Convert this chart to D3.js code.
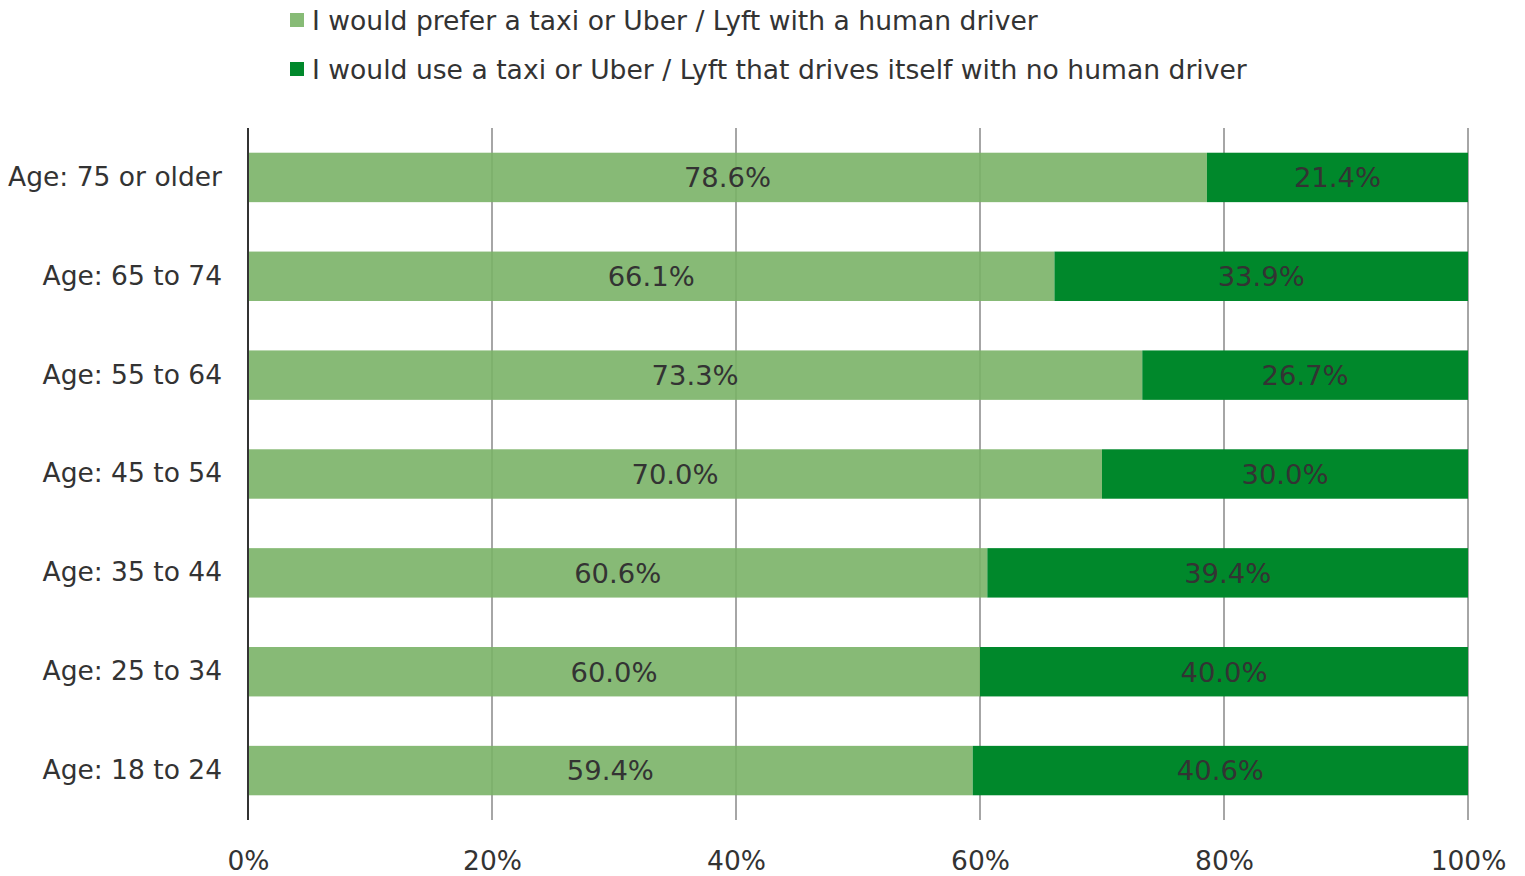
<!DOCTYPE html>
<html><head><meta charset="utf-8">
<script src="https://cdn.jsdelivr.net/npm/d3@7"></script>
<style>body{margin:0;background:#fff;} svg{display:block;} text{font-family:"DejaVu Sans",sans-serif;}</style>
</head><body>
<svg id="chart" width="1525" height="876"></svg>
<script>
const categories = ["Age: 75 or older","Age: 65 to 74","Age: 55 to 64","Age: 45 to 54","Age: 35 to 44","Age: 25 to 34","Age: 18 to 24"];
const seriesNames = ["I would prefer a taxi or Uber / Lyft with a human driver","I would use a taxi or Uber / Lyft that drives itself with no human driver"];
const humanDriver = [78.6, 66.1, 73.3, 70.0, 60.6, 60.0, 59.4];
const selfDriving = [21.4, 33.9, 26.7, 30.0, 39.4, 40.0, 40.6];
const tickValues = [0, 20, 40, 60, 80, 100];
const colors = ["#87bb76", "#00882b"];
const barFills = ["#7ab367", "#00882b"];
const barOpacity = [0.9, 1];

const svg = d3.select("#chart");
const mLeft = 248, mRight = 1468, mTop = 128, mBottom = 820;
const x = d3.scaleLinear().domain([0,100]).range([mLeft,mRight]);
const y = d3.scaleBand().domain(categories).range([mTop,mBottom]).paddingInner(0.5).paddingOuter(0.25);

// gridlines
svg.append("g").selectAll("line").data(tickValues.slice(1)).join("line")
  .attr("x1",d=>x(d)).attr("x2",d=>x(d)).attr("y1",mTop).attr("y2",mBottom)
  .attr("stroke","#a6a6a6").attr("stroke-width",2);

const rows = categories.map((c,i)=>({cat:c, vals:[humanDriver[i], selfDriving[i]]}));
const segs = [];
rows.forEach(r=>{
  let acc = 0;
  r.vals.forEach((v,j)=>{ segs.push({cat:r.cat, j, v, x0:acc, x1:acc+v}); acc += v; });
});

svg.append("g").selectAll("rect").data(segs).join("rect")
  .attr("x",d=>x(d.x0)).attr("width",d=>x(d.x1)-x(d.x0))
  .attr("y",d=>y(d.cat)).attr("height",y.bandwidth())
  .attr("fill",d=>barFills[d.j]).attr("fill-opacity",d=>barOpacity[d.j]);

svg.append("g").selectAll("text").data(segs).join("text")
  .attr("x",d=>(x(d.x0)+x(d.x1))/2).attr("y",d=>y(d.cat)+y.bandwidth()/2)
  .attr("dy","0.36em").attr("text-anchor","middle").attr("font-size",27.4)
  .attr("fill","#333333").text(d=>d.v.toFixed(1)+"%");

// zero axis line
svg.append("line").attr("x1",mLeft).attr("x2",mLeft).attr("y1",mTop).attr("y2",mBottom)
  .attr("stroke","#333").attr("stroke-width",2);

// x axis labels
const xAxis = d3.axisBottom(x).tickValues(tickValues).tickFormat(d=>d+"%").tickSize(0).tickPadding(0);
const xg = svg.append("g").attr("transform",`translate(0,${mBottom+40})`).call(xAxis);
xg.select(".domain").remove();
xg.selectAll("text").attr("font-size",26.5).attr("fill","#333").attr("dy","0.36em").attr("font-family",null);

// y axis labels
const yAxis = d3.axisLeft(y).tickSize(0).tickPadding(26);
const yg = svg.append("g").attr("transform",`translate(${mLeft},0)`).call(yAxis);
yg.select(".domain").remove();
yg.selectAll("text").attr("font-size",26.5).attr("fill","#333").attr("font-family",null);

// legend
const leg = svg.append("g");
seriesNames.forEach((s,i)=>{
  const cy = 20 + i*49;
  leg.append("rect").attr("x",290).attr("y",cy-7).attr("width",14).attr("height",14).attr("fill",colors[i]);
  leg.append("text").attr("x",312).attr("y",cy).attr("dy","0.36em").attr("font-size",26.6).attr("fill","#333").text(s);
});
</script>
</body></html>
